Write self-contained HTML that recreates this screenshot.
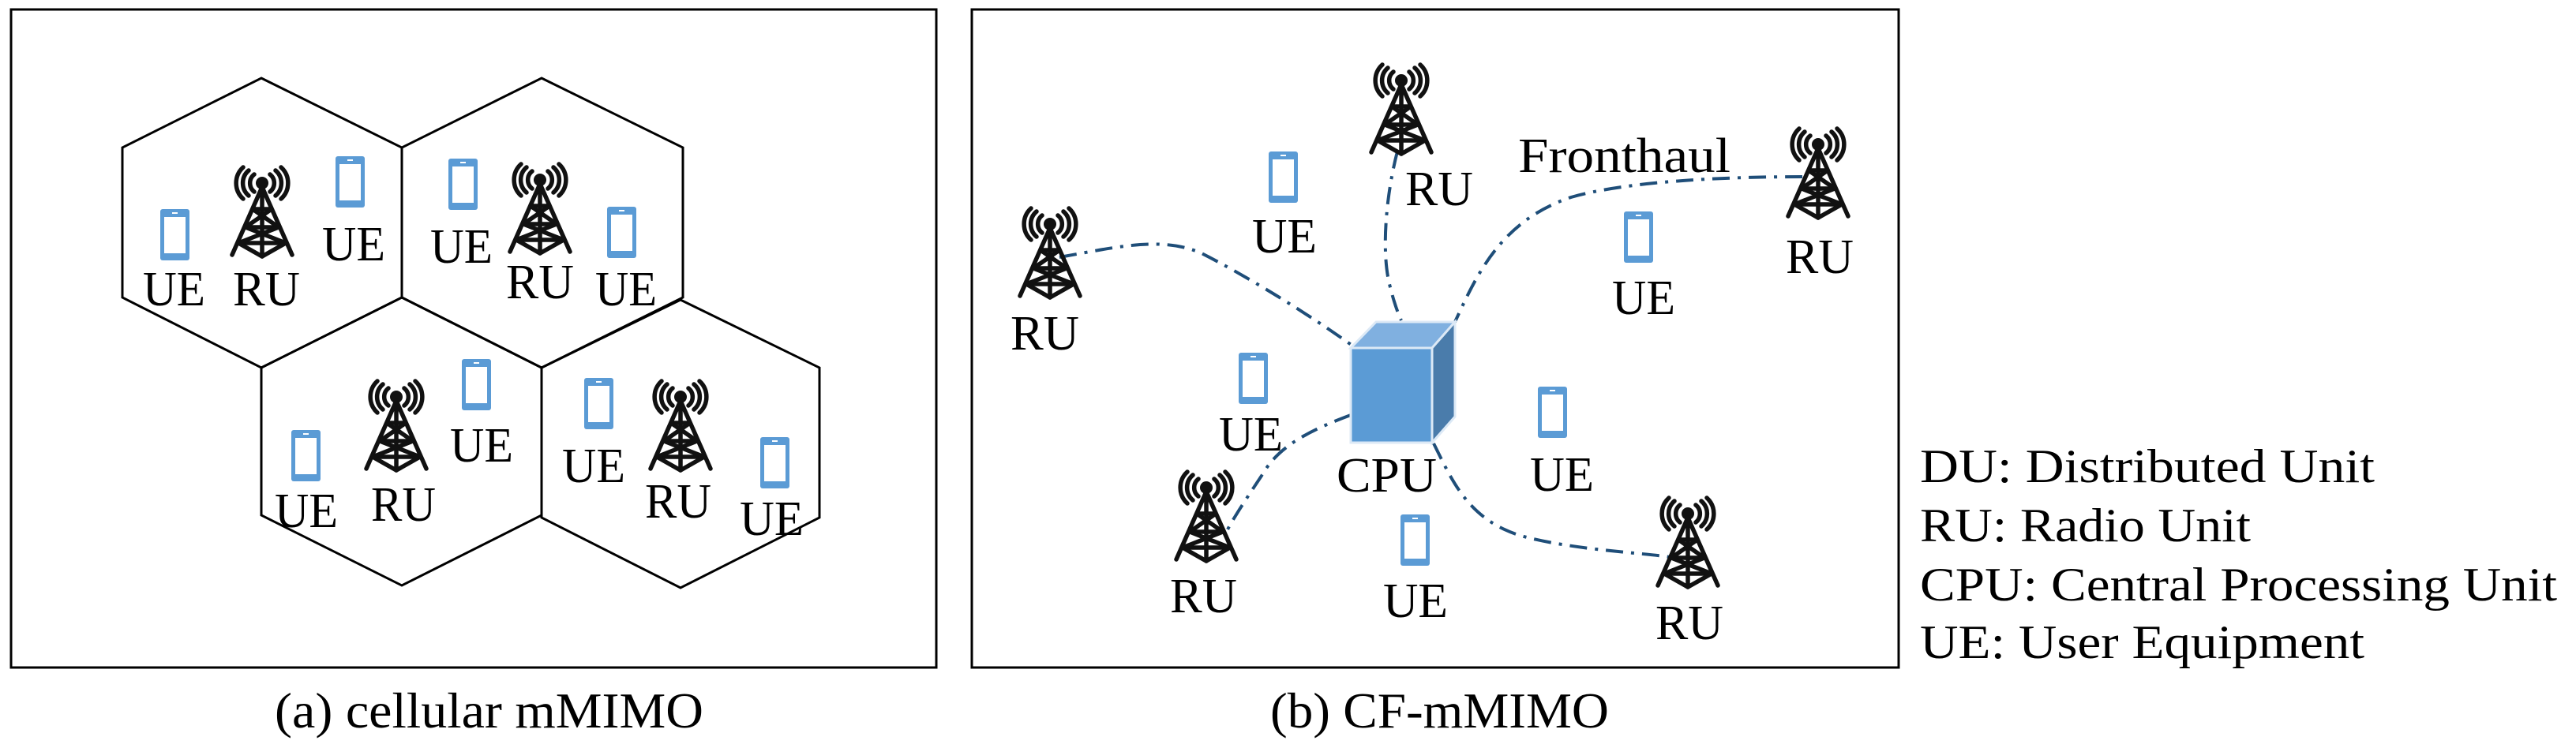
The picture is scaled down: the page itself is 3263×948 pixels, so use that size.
<!DOCTYPE html>
<html><head><meta charset="utf-8"><style>
html,body{margin:0;padding:0;background:#fff;}
svg{display:block}
text{font-family:"Liberation Serif",serif;fill:#000}
</style></head><body>
<svg width="3263" height="948" viewBox="0 0 3263 948" xmlns="http://www.w3.org/2000/svg">
<defs>
<g id="tw" fill="none" stroke="#111" stroke-width="5.5" stroke-linecap="round">
  <circle cx="43" cy="19" r="8" fill="#111" stroke="none"/>
  <path d="M33 8 A14 14 0 0 0 33 30 M26 3 A21 21 0 0 0 26 35 M19 -1 A27 27 0 0 0 19 39"/>
  <path d="M53 8 A14 14 0 0 1 53 30 M60 3 A21 21 0 0 1 60 35 M67 -1 A27 27 0 0 1 67 39"/>
  <path d="M43 24 L5 110 M43 24 L81 110 M43 24 L43 112"/>
  <path d="M31 52 L55 52 M22 75 L64 75 M13 95 L73 95"/>
  <path d="M31 52 L64 75 M55 52 L22 75 M22 75 L73 95 M64 75 L13 95 M13 95 L43 112 M73 95 L43 112"/>
</g>
<g id="ph">
  <rect x="0" y="0" width="37" height="65" rx="3" fill="#5b9bd5"/>
  <rect x="5" y="10" width="27" height="46" fill="#fff"/>
  <rect x="15" y="4" width="7" height="2" fill="#fff"/>
</g>
</defs>

<!-- left panel -->
<rect x="14" y="12" width="1172" height="834" fill="none" stroke="#000" stroke-width="3"/>
<g fill="none" stroke="#000" stroke-width="3">
<polygon points="331,99 509,187 509,377 331,466 155,377 155,187"/>
<polygon points="686,99 865,187 865,377 686,466 509,377 509,187"/>
<polygon points="509,377 686,466 686,653 509,742 331,653 331,466"/>
<polygon points="862,380 1038,466 1038,656 862,745 686,656 686,466"/>
</g>
<g font-size="62">
<use href="#tw" x="289" y="213"/><use href="#tw" x="641" y="209"/>
<use href="#tw" x="459" y="484"/><use href="#tw" x="819" y="484"/>
<use href="#ph" x="203" y="265"/><use href="#ph" x="425" y="198"/>
<use href="#ph" x="568" y="201"/><use href="#ph" x="769" y="262"/>
<use href="#ph" x="369" y="545"/><use href="#ph" x="585" y="455"/>
<use href="#ph" x="740" y="479"/><use href="#ph" x="963" y="554"/>
<text x="181" y="387" textLength="79" lengthAdjust="spacingAndGlyphs">UE</text>
<text x="295" y="387" textLength="85" lengthAdjust="spacingAndGlyphs">RU</text>
<text x="408" y="330" textLength="80" lengthAdjust="spacingAndGlyphs">UE</text>
<text x="545" y="333" textLength="79" lengthAdjust="spacingAndGlyphs">UE</text>
<text x="641" y="378" textLength="86" lengthAdjust="spacingAndGlyphs">RU</text>
<text x="754" y="387" textLength="78" lengthAdjust="spacingAndGlyphs">UE</text>
<text x="348" y="668" textLength="80" lengthAdjust="spacingAndGlyphs">UE</text>
<text x="470" y="660" textLength="82" lengthAdjust="spacingAndGlyphs">RU</text>
<text x="570" y="585" textLength="80" lengthAdjust="spacingAndGlyphs">UE</text>
<text x="712" y="611" textLength="80" lengthAdjust="spacingAndGlyphs">UE</text>
<text x="817" y="656" textLength="84" lengthAdjust="spacingAndGlyphs">RU</text>
<text x="937" y="678" textLength="81" lengthAdjust="spacingAndGlyphs">UE</text>
</g>
<text x="348" y="922" font-size="63" textLength="543" lengthAdjust="spacingAndGlyphs">(a) cellular mMIMO</text>

<!-- right panel -->
<rect x="1231" y="12" width="1174" height="834" fill="none" stroke="#000" stroke-width="3"/>
<g fill="none" stroke="#1f4e79" stroke-width="4" stroke-dasharray="22 10 4 10">
<path d="M1342 326 C1420 312 1470 300 1520 320 C1580 350 1660 400 1713 438"/>
<path d="M1770 192 C1755 250 1750 320 1760 360 C1766 385 1772 400 1775 406"/>
<path d="M2283 224 C2180 224 2060 230 1990 250 C1900 280 1870 350 1843 408"/>
<path d="M1711 526 C1660 545 1620 565 1600 600 C1580 630 1560 660 1552 677"/>
<path d="M1816 562 C1840 610 1860 660 1930 680 C2000 698 2080 700 2122 707"/>
</g>
<polygon points="1711,441 1743,408 1843,408 1814,441" fill="#80b0e0" stroke="#dce9f6" stroke-width="3"/>
<polygon points="1814,441 1843,408 1843,528 1814,561" fill="#4a7cab" stroke="#dce9f6" stroke-width="3"/>
<rect x="1711" y="441" width="103" height="120" fill="#5b9bd5" stroke="#dce9f6" stroke-width="3"/>
<g font-size="62">
<use href="#tw" x="1732" y="83"/><use href="#tw" x="1287" y="265"/>
<use href="#tw" x="2260" y="164"/><use href="#tw" x="1485" y="599"/>
<use href="#tw" x="2095" y="632"/>
<use href="#ph" x="1607" y="192"/><use href="#ph" x="2057" y="268"/>
<use href="#ph" x="1569" y="447"/><use href="#ph" x="1948" y="490"/>
<use href="#ph" x="1774" y="652"/>
<text x="1780" y="260" textLength="86" lengthAdjust="spacingAndGlyphs">RU</text>
<text x="1280" y="443" textLength="87" lengthAdjust="spacingAndGlyphs">RU</text>
<text x="2262" y="346" textLength="86" lengthAdjust="spacingAndGlyphs">RU</text>
<text x="1482" y="776" textLength="85" lengthAdjust="spacingAndGlyphs">RU</text>
<text x="2097" y="810" textLength="86" lengthAdjust="spacingAndGlyphs">RU</text>
<text x="1586" y="320" textLength="82" lengthAdjust="spacingAndGlyphs">UE</text>
<text x="2042" y="398" textLength="80" lengthAdjust="spacingAndGlyphs">UE</text>
<text x="1544" y="571" textLength="81" lengthAdjust="spacingAndGlyphs">UE</text>
<text x="1938" y="622" textLength="81" lengthAdjust="spacingAndGlyphs">UE</text>
<text x="1752" y="782" textLength="82" lengthAdjust="spacingAndGlyphs">UE</text>
<text x="1693" y="623" textLength="127" lengthAdjust="spacingAndGlyphs">CPU</text>
<text x="1923" y="218" textLength="269" lengthAdjust="spacingAndGlyphs">Fronthaul</text>
</g>
<text x="1609" y="922" font-size="63" textLength="429" lengthAdjust="spacingAndGlyphs">(b) CF-mMIMO</text>

<!-- legend -->
<g font-size="60">
<text x="2432" y="611" textLength="576" lengthAdjust="spacingAndGlyphs">DU: Distributed Unit</text>
<text x="2432" y="686" textLength="419" lengthAdjust="spacingAndGlyphs">RU: Radio Unit</text>
<text x="2432" y="761" textLength="807" lengthAdjust="spacingAndGlyphs">CPU: Central Processing Unit</text>
<text x="2432" y="834" textLength="563" lengthAdjust="spacingAndGlyphs">UE: User Equipment</text>
</g>
</svg>
</body></html>
